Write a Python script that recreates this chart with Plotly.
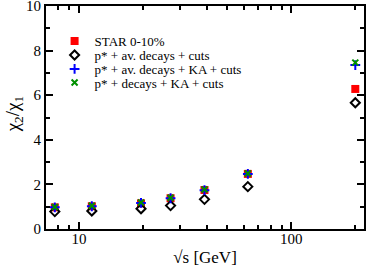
import plotly.graph_objects as go

sqrt_s = [7.7, 11.5, 19.6, 27, 39, 62.4, 200]
star_0_10 = [0.97, 1.02, 1.15, 1.38, 1.75, 2.47, 6.28]
av_decays_cuts = [0.78, 0.81, 0.91, 1.05, 1.33, 1.90, 5.66]
av_decays_ka_cuts = [0.97, 1.02, 1.17, 1.38, 1.74, 2.47, 7.35]
decays_ka_cuts = [0.99, 1.04, 1.19, 1.40, 1.77, 2.49, 7.46]

series_names = ["STAR 0-10%", "p* + av. decays + cuts", "p* + av. decays + KA + cuts", "p* + decays + KA + cuts"]

x_ticks = [10, 100]
x_minor = [8, 9, 20, 30, 40, 50, 60, 70, 80, 90, 200]
y_ticks = [0, 2, 4, 6, 8, 10]

font = "Liberation Serif, Times New Roman, serif"

fig = go.Figure()
fig.add_trace(go.Scatter(x=sqrt_s, y=star_0_10, mode="markers", name=series_names[0], legend="legend",
                         marker=dict(symbol="square", size=8, color="#ff0000")))
fig.add_trace(go.Scatter(x=sqrt_s, y=av_decays_cuts, mode="markers", name=series_names[1], legend="legend2",
                         marker=dict(symbol="diamond-open", size=7, color="black", line=dict(width=2, color="black"))))
fig.add_trace(go.Scatter(x=sqrt_s, y=av_decays_ka_cuts, mode="markers", name=series_names[2], legend="legend3",
                         marker=dict(symbol="cross-thin", size=7, color="#0000ff", line=dict(width=2, color="#0000ff"))))
fig.add_trace(go.Scatter(x=sqrt_s, y=decays_ka_cuts, mode="markers", name=series_names[3], legend="legend4",
                         marker=dict(symbol="x-thin", size=6, color="#008000", line=dict(width=2, color="#009000"))))

axis_common = dict(showgrid=False, zeroline=False, showline=True, linecolor="black", linewidth=2,
                   mirror="ticks", ticks="inside", tickcolor="black", tickwidth=1.5,
                   ticklabeloverflow="allow",
                   tickfont=dict(family=font, size=15, color="black"))

fig.update_xaxes(type="log", range=[0.845, 2.342], tickvals=x_ticks, ticktext=[str(v) for v in x_ticks],
                 ticklen=7, ticklabelstandoff=-5, automargin="bottom",
                 minor=dict(tickvals=x_minor, ticks="inside", ticklen=4, tickcolor="black", tickwidth=1.5),
                 title=dict(text="√s [GeV]", font=dict(family=font, size=17, color="black"), standoff=5),
                 **axis_common)
fig.update_yaxes(range=[0, 10], tickvals=y_ticks, ticklen=7, automargin=False,
                 minor=dict(dtick=1, ticks="inside", ticklen=4, tickcolor="black", tickwidth=1.5),
                 **axis_common)

fig.add_annotation(text="χ<sub>2</sub>/χ<sub>1</sub>", xref="paper", yref="paper",
                   x=-0.1, y=0.515, xanchor="center", yanchor="middle", textangle=-90,
                   showarrow=False, font=dict(family=font, size=19, color="black"))

legend_rows = [0.843, 0.780, 0.7175, 0.657]
legend_common = dict(x=0.027, xanchor="left", yanchor="middle", bgcolor="rgba(0,0,0,0)",
                     font=dict(family=font, size=13, color="black"), itemwidth=30)

fig.update_layout(
    width=366, height=269,
    margin=dict(l=46, r=2, t=6, b=40),
    plot_bgcolor="white", paper_bgcolor="white",
    showlegend=True,
    legend=dict(y=legend_rows[0], **legend_common),
    legend2=dict(y=legend_rows[1], **legend_common),
    legend3=dict(y=legend_rows[2], **legend_common),
    legend4=dict(y=legend_rows[3], **legend_common),
)

fig.write_html("out.html", config={"displayModeBar": False},
               post_script="document.body.style.margin='0';")
